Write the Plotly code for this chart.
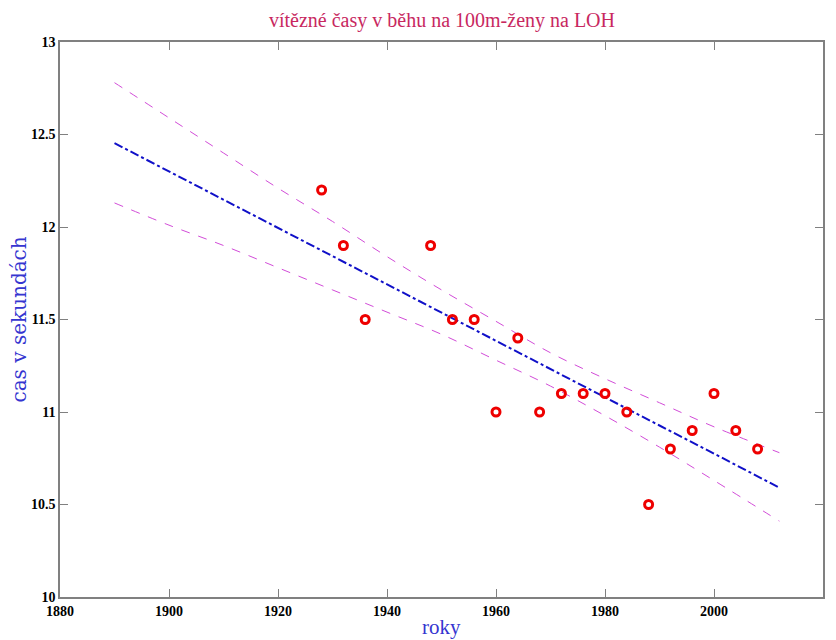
import plotly.graph_objects as go

# Data points (year, winning time in seconds)
years = [1928, 1932, 1936, 1948, 1952, 1956, 1960, 1964, 1968, 1972, 1976,
         1980, 1984, 1988, 1992, 1996, 2000, 2004, 2008]
times = [12.2, 11.9, 11.5, 11.9, 11.5, 11.5, 11.0, 11.4, 11.0, 11.1, 11.1,
         11.1, 11.0, 10.5, 10.8, 10.9, 11.1, 10.9, 10.8]

# Fitted line and confidence band
fit_years = [1890, 1900, 1910, 1920, 1930, 1940, 1950, 1960, 1970, 1980, 1990, 2000, 2012]
fit_line = [12.453, 12.300, 12.148, 11.995, 11.843, 11.690, 11.538, 11.385, 11.232, 11.080, 10.927, 10.775, 10.591]
band_upper = [12.78, 12.59, 12.40, 12.21, 12.03, 11.84, 11.66, 11.49, 11.32, 11.18, 11.05, 10.92, 10.78]
band_lower = [12.13, 12.01, 11.90, 11.78, 11.66, 11.54, 11.42, 11.28, 11.14, 10.98, 10.81, 10.63, 10.41]

x_ticks = [1880, 1900, 1920, 1940, 1960, 1980, 2000, 2020]
y_ticks = [10, 10.5, 11, 11.5, 12, 12.5, 13]
y_tick_text = ["10", "10.5", "11", "11.5", "12", "12.5", "13"]

fig = go.Figure()
fig.add_trace(go.Scatter(x=fit_years, y=band_upper, mode="lines",
                         line=dict(color="#d24cd8", width=1, dash="dash", shape="spline"),
                         showlegend=False, hoverinfo="skip"))
fig.add_trace(go.Scatter(x=fit_years, y=band_lower, mode="lines",
                         line=dict(color="#d24cd8", width=1, dash="dash", shape="spline"),
                         showlegend=False, hoverinfo="skip"))
fig.add_trace(go.Scatter(x=fit_years, y=fit_line, mode="lines",
                         line=dict(color="#1010c8", width=2, dash="dashdot"),
                         showlegend=False))
fig.add_trace(go.Scatter(x=years, y=times, mode="markers",
                         marker=dict(symbol="circle-open", size=8, color="#ee0000",
                                     line=dict(width=3, color="#ee0000")),
                         showlegend=False))

axis_common = dict(showgrid=False, zeroline=False, showline=True, linecolor="#808080",
                   linewidth=1.5, mirror="ticks", ticks="inside", ticklen=8,
                   tickcolor="#808080", tickwidth=1,
                   tickfont=dict(family="Liberation Serif", size=14, color="black"))

fig.update_xaxes(range=[1880, 2020], tickvals=x_ticks,
                 ticktext=["<b>%d</b>" % v for v in x_ticks], **axis_common)
fig.update_yaxes(range=[10, 13], tickvals=y_ticks,
                 ticktext=["<b>%s</b>" % t for t in y_tick_text], **axis_common)

fig.update_layout(
    width=836, height=640,
    margin=dict(l=60, r=13, t=42, b=43),
    plot_bgcolor="white", paper_bgcolor="white",
    annotations=[
        dict(text="vítězné časy v běhu na 100m-ženy na LOH", x=0.5, y=1, xref="paper",
             yref="paper", yshift=22, showarrow=False, xanchor="center", yanchor="middle",
             font=dict(family="Liberation Serif", size=20, color="#c8285f")),
        dict(text="roky", x=0.5, y=0, xref="paper", yref="paper", yshift=-30,
             showarrow=False, xanchor="center", yanchor="middle",
             font=dict(family="Liberation Serif", size=21, color="#3535d0")),
        dict(text="cas v sekundách", x=0, y=0.5, xref="paper", yref="paper", xshift=-42,
             showarrow=False, xanchor="center", yanchor="middle", textangle=-90,
             font=dict(family="DejaVu Serif", size=20, color="#3535d0")),
    ],
)

fig.write_html("out.html", config={"displayModeBar": False},
               post_script="document.body.style.margin='0';document.body.style.padding='0';")
